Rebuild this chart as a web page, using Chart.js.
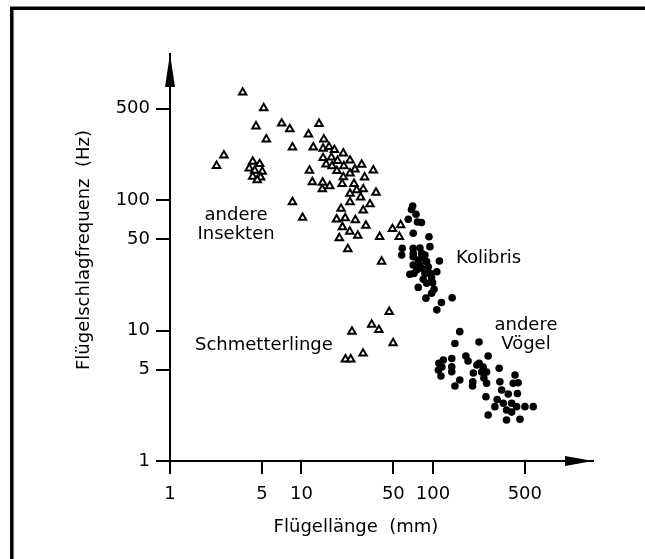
<!DOCTYPE html>
<html>
<head>
<meta charset="utf-8">
<script src="https://cdn.jsdelivr.net/npm/chart.js@4.4.0/dist/chart.umd.min.js"></script>
<style>
  html, body { margin: 0; padding: 0; background: #fff; }
  canvas { display: block; }
</style>
</head>
<body>
<canvas id="wings" width="645" height="559"></canvas>
<script>
// wing length (mm) and wing beat frequency (Hz)
const insectLen = [3.57, 5.16, 4.51, 7.07, 8.15, 5.40, 11.3, 13.6, 8.54, 12.3,
  2.57, 2.26, 4.26, 4.81, 4.01, 4.41, 5.03, 4.26, 4.89, 4.61,
  11.5, 12.1, 14.8, 14.6, 16.2, 17.8, 20.8, 14.6, 16.9, 18.8,
  23.4, 28.7, 15.4, 17.1, 21.0, 25.5, 18.6, 35.2, 23.4, 20.8,
  30.2, 14.5, 16.4, 14.4, 20.4, 25.1, 26.3, 29.5, 23.4, 36.9,
  28.2, 23.4, 33.2, 8.54, 20.0, 29.5, 10.2, 18.5, 21.5, 25.7,
  20.5, 30.9, 23.3, 19.4, 26.8, 39.3, 49.2, 56.8, 55.5, 22.5, 40.7];
const insectFreq = [667, 507, 367, 386, 350, 292, 319, 384, 253, 253,
  220, 183, 197, 189, 175, 168, 165, 151, 149, 142,
  168, 137, 292, 248, 255, 242, 228, 210, 212, 200,
  201, 187, 188, 182, 182, 172, 167, 169, 160, 150,
  149, 136, 128, 121, 133, 133, 119, 121, 112, 114,
  105, 96.5, 92.9, 96.5, 85.8, 83.5, 73.2, 71.2, 72.8, 70.3,
  62.1, 63.6, 57.2, 51.0, 53.3, 52.2, 60.0, 64.3, 52.3, 42.1, 33.7];

const butterflyLen = [46.5, 24.2, 34.2, 38.8, 49.8, 29.4, 21.6, 23.7];
const butterflyFreq = [13.9, 9.8, 11.1, 10.1, 8.0, 6.67, 6.02, 6.02];

const hummerLen = [70.1, 68.7, 74.3, 64.9, 76.2, 81.8, 70.8, 93.3, 58.4, 57.8,
  70.8, 94.9, 86.9, 70.8, 77.3, 89.5, 112, 79.6, 92.1, 70.8,
  66.8, 71.7, 107, 86.9, 84.4, 97.7, 89.5, 77.3, 102, 97.7,
  88.5, 116, 140, 107, 70.8, 82.0, 75.2, 82.0, 94.9, 99.5,
  79.6, 82.5];
const hummerFreq = [89.9, 84.6, 77.7, 71.2, 67.8, 67.2, 55.6, 52.3, 42.7, 37.9,
  42.7, 43.9, 37.9, 36.8, 34.7, 33.7, 34.1, 31.8, 30.8, 31.8,
  27.0, 27.4, 28.2, 27.4, 24.7, 25.4, 23.0, 21.4, 20.7, 19.3,
  17.7, 16.4, 17.8, 14.4, 39.0, 39.0, 29.1, 30.0, 27.4, 23.2,
  42.9, 35.9];

const birdLen = [160, 224, 147, 111, 120, 110, 117, 139, 139, 139,
  178, 185, 225, 241, 235, 256, 263, 319, 203, 160,
  147, 201, 200, 256, 323, 421, 408, 445, 333, 253,
  308, 374, 439, 343, 397, 433, 501, 579, 363, 397,
  263, 363, 459, 296, 216, 244, 115];
const birdFreq = [9.8, 8.17, 7.95, 5.61, 5.94, 4.98, 5.25, 6.10, 5.28, 4.83,
  6.38, 5.84, 5.61, 5.25, 4.81, 4.81, 6.38, 5.13, 4.72, 4.18,
  3.76, 4.05, 3.76, 3.94, 4.05, 4.56, 3.94, 3.98, 3.50, 3.11,
  2.96, 3.26, 3.29, 2.77, 2.77, 2.61, 2.61, 2.61, 2.46, 2.37,
  2.25, 2.06, 2.09, 2.61, 5.44, 4.33, 4.48];

const xTicks = [1, 5, 10, 50, 100, 500];
const yTicks = [1, 5, 10, 50, 100, 500];
const xMax = 1650;
const yMax = 1315;

// group names, anchored at data positions (x = mm, y = Hz)
const groupLabels = [
  { lines: ['andere', 'Insekten'], x: 3.18, y: 76.8, align: 'center' },
  { lines: ['Kolibris'], x: 150, y: 35.9, align: 'left' },
  { lines: ['andere', 'Vögel'], x: 510, y: 11.0, align: 'center' },
  { lines: ['Schmetterlinge'], x: 1.55, y: 7.74, align: 'left' }
];

const pairs = (xs, ys) => xs.map((x, i) => ({ x: x, y: ys[i] }));

const FONT = '"DejaVu Sans", sans-serif';

const decorations = {
  id: 'decorations',
  afterDraw(chart) {
    const { ctx, chartArea: a, scales } = chart;
    ctx.save();
    // frame, top and left only
    ctx.strokeStyle = '#000';
    ctx.lineWidth = 3.5;
    ctx.beginPath();
    ctx.moveTo(11.8, 559);
    ctx.lineTo(11.8, 8.3);
    ctx.lineTo(645, 8.3);
    ctx.stroke();

    // arrow heads
    ctx.fillStyle = '#000';
    ctx.beginPath();
    ctx.moveTo(a.right, a.bottom);
    ctx.lineTo(a.right - 28, a.bottom - 5);
    ctx.lineTo(a.right - 28, a.bottom + 5);
    ctx.closePath();
    ctx.fill();
    ctx.beginPath();
    ctx.moveTo(a.left, a.top);
    ctx.lineTo(a.left - 5, a.top + 33);
    ctx.lineTo(a.left + 5, a.top + 33);
    ctx.closePath();
    ctx.fill();

    ctx.font = '18px ' + FONT;
    ctx.textBaseline = 'middle';
    groupLabels.forEach(l => {
      const px = scales.x.getPixelForValue(l.x);
      const py = scales.y.getPixelForValue(l.y);
      ctx.textAlign = l.align;
      l.lines.forEach((t, i) => ctx.fillText(t, px, py + i * 19));
    });

    // axis titles
    ctx.textAlign = 'center';
    ctx.fillText('Flügellänge  (mm)', 356, 527);
    ctx.translate(84, 250);
    ctx.rotate(-Math.PI / 2);
    ctx.fillText('Flügelschlagfrequenz  (Hz)', 0, 0);
    ctx.restore();
  }
};

const triangles = {
  pointStyle: 'triangle', radius: 4.3, borderWidth: 2,
  borderColor: '#000', backgroundColor: '#fff'
};
const dots = {
  pointStyle: 'circle', radius: 3.8, borderWidth: 0,
  backgroundColor: '#000'
};

new Chart(document.getElementById('wings'), {
  type: 'scatter',
  data: {
    datasets: [
      Object.assign({ label: 'andere Insekten', data: pairs(insectLen, insectFreq) }, triangles),
      Object.assign({ label: 'Schmetterlinge', data: pairs(butterflyLen, butterflyFreq) }, triangles),
      Object.assign({ label: 'Kolibris', data: pairs(hummerLen, hummerFreq) }, dots),
      Object.assign({ label: 'andere Vögel', data: pairs(birdLen, birdFreq) }, dots)
    ]
  },
  options: {
    responsive: false,
    animation: false,
    events: [],
    layout: { padding: { top: 54, right: 52, left: 0, bottom: 0 } },
    plugins: { legend: { display: false }, tooltip: { enabled: false } },
    scales: {
      x: {
        type: 'logarithmic', min: 1, max: xMax,
        afterFit(s) { s.height = 98; },
        afterBuildTicks(s) { s.ticks = xTicks.map(v => ({ value: v })); },
        ticks: {
          callback: v => String(v), padding: 10, color: '#000',
          maxRotation: 0, autoSkip: false, font: { family: FONT, size: 18 }
        },
        grid: { drawOnChartArea: false, tickLength: 13, lineWidth: 2, color: '#000' },
        border: { color: '#000', width: 2 }
      },
      y: {
        type: 'logarithmic', min: 1, max: yMax,
        afterFit(s) { s.width = 170; },
        afterBuildTicks(s) { s.ticks = yTicks.map(v => ({ value: v })); },
        ticks: {
          callback: v => String(v), padding: 6, color: '#000',
          autoSkip: false, font: { family: FONT, size: 18 }
        },
        grid: { drawOnChartArea: false, tickLength: 14, lineWidth: 2, color: '#000' },
        border: { color: '#000', width: 2 }
      }
    }
  },
  plugins: [decorations]
});
</script>
</body>
</html>
